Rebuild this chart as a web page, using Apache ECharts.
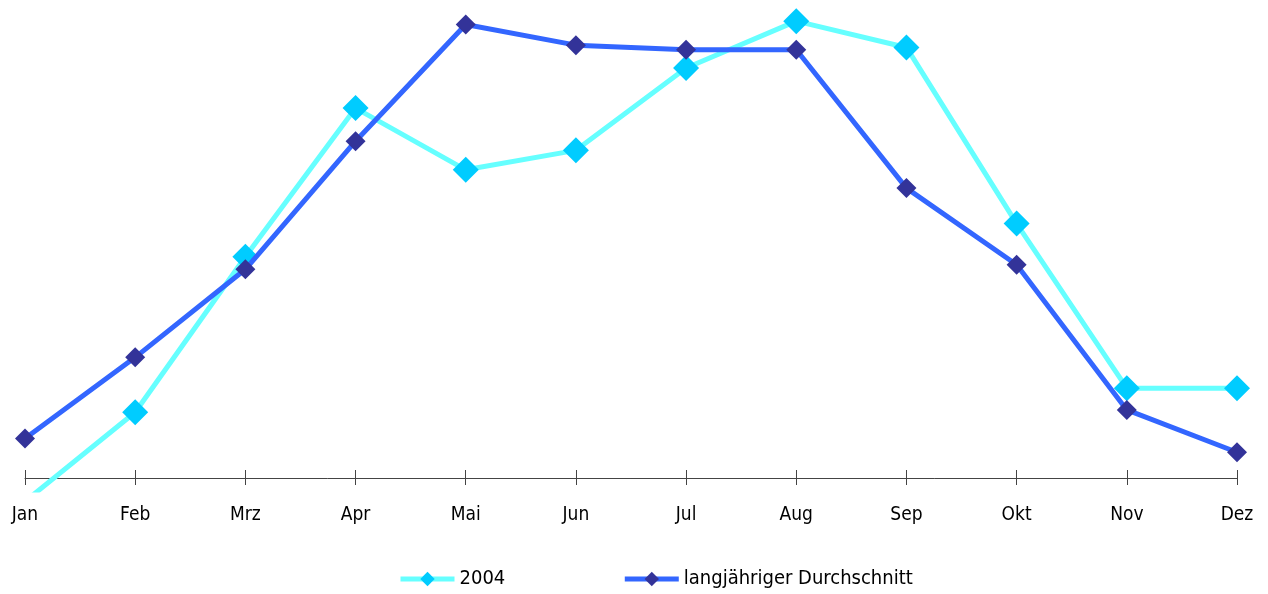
<!DOCTYPE html>
<html>
<head>
<meta charset="utf-8">
<script src="https://cdn.jsdelivr.net/npm/echarts@6/dist/echarts.min.js"></script>
<style>
  html, body { margin: 0; padding: 0; background: #fff; }
  #chart { width: 1268px; height: 594px; }
</style>
</head>
<body>
<div id="chart"></div>
<script>
var months = ['Jan', 'Feb', 'Mrz', 'Apr', 'Mai', 'Jun', 'Jul', 'Aug', 'Sep', 'Okt', 'Nov', 'Dez'];
var werte2004 = [-1.0, 2.9, 9.7, 16.2, 13.5, 14.35, 17.95, 20.0, 18.85, 11.15, 3.95, 3.95];
var durchschnitt = [1.75, 5.3, 9.15, 14.75, 19.85, 18.95, 18.75, 18.75, 12.7, 9.35, 3.0, 1.15];
var seriesNames = ['2004', 'langjähriger Durchschnitt'];

var chart = echarts.init(document.getElementById('chart'));
var font = "'DejaVu Sans Condensed', 'Liberation Sans', sans-serif";

// Achse liegt bei 0, Plotbereich reicht etwas darunter (Jan 2004 wird abgeschnitten)
var option = {
    animation: false,
    textStyle: {fontFamily: font},
    grid: {left: 25, right: 31, top: 12, bottom: 104, containLabel: false},
    legend: {
        left: 393,
        bottom: 0,
        itemWidth: 54,
        itemHeight: 18,
        itemGap: 117,
        lineStyle: {width: 5},
        textStyle: {fontFamily: font, fontSize: 20, color: '#000'},
        data: seriesNames
    },
    xAxis: [{
        type: 'category',
        data: months,
        boundaryGap: false,
        offset: -12,
        axisLine: {onZero: false, lineStyle: {color: '#444', width: 1}},
        axisTick: {length: 7, lineStyle: {color: '#444'}},
        axisLabel: {margin: 28, fontSize: 19, color: '#000', fontFamily: font}
    }, {
        type: 'category',
        data: months,
        boundaryGap: false,
        position: 'bottom',
        offset: -12,
        axisLine: {show: false, onZero: false},
        axisTick: {inside: true, length: 8, lineStyle: {color: '#444'}},
        axisLabel: {show: false}
    }],
    yAxis: {
        type: 'value',
        min: -0.5,
        max: 20.4,
        show: false,
        splitLine: {show: false}
    },
    series: [{
        name: seriesNames[0],
        type: 'line',
        data: werte2004,
        symbol: 'diamond',
        symbolSize: 26,
        lineStyle: {color: '#66ffff', width: 5},
        itemStyle: {color: '#00ccff'},
        z: 2
    }, {
        name: seriesNames[1],
        type: 'line',
        data: durchschnitt,
        symbol: 'diamond',
        symbolSize: 20,
        lineStyle: {color: '#3366ff', width: 5},
        itemStyle: {color: '#333399'},
        z: 3
    }]
};

chart.setOption(option);
</script>
</body>
</html>
